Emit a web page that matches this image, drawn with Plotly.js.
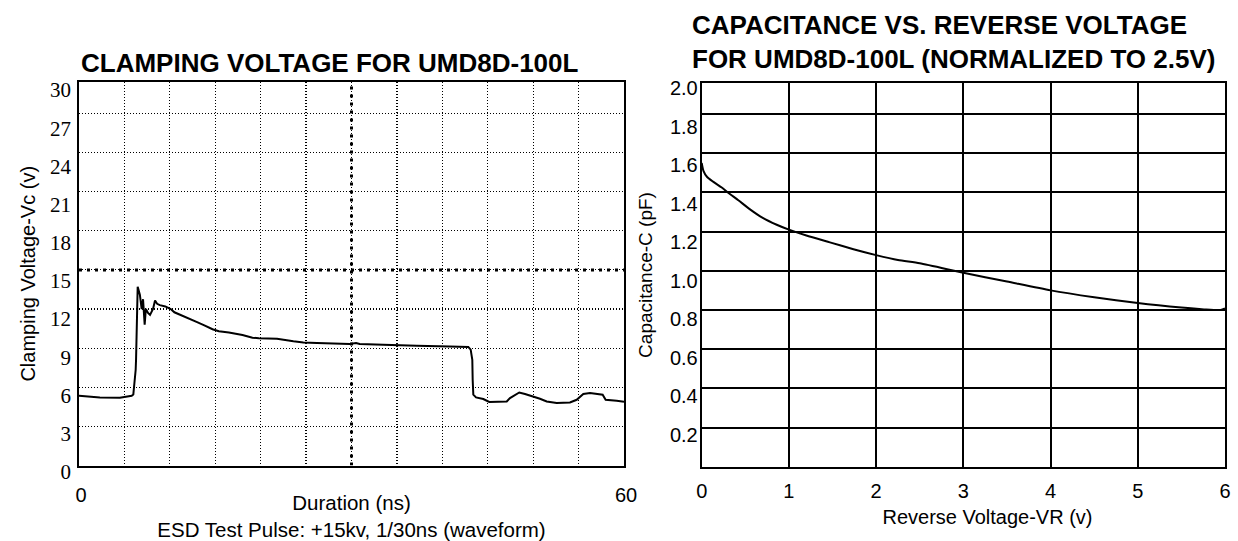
<!DOCTYPE html>
<html>
<head>
<meta charset="utf-8">
<script src="https://cdn.plot.ly/plotly-3.0.1.min.js"></script>
<style>
html,body{margin:0;padding:0;background:#fff;}
#chart{width:1238px;height:541px;}
</style>
</head>
<body>
<div id="chart"></div>
<script>
// ---------- Left chart: clamping voltage waveform ----------
const durationNs = [0, 2.3, 4.5, 5.8, 5.98, 6.09, 6.17, 6.24, 6.28, 6.31, 6.35, 6.38, 6.46,
  6.7, 6.9, 7.05, 7.23, 7.36, 7.6, 7.82, 8.15, 8.37, 8.6, 8.9, 9.5, 10.1, 10.5, 11.0, 12.1,
  13.0, 13.8, 14.7, 15.4, 16.5, 18.0, 19.1, 19.8, 21.8, 23.6, 24.7, 26.2, 28.0, 29.8, 30.5,
  30.9, 33.5, 35.3, 37.2, 40.8, 42.86, 43.12, 43.3, 43.34, 43.41, 43.71, 44.51, 45.17, 47.09,
  47.45, 48.47, 49.1, 50.01, 50.75, 51.49, 52.59, 54.05, 54.79, 55.52, 56.26, 57.65, 57.98,
  59.2, 60];
const clampVoltage = [5.35, 5.22, 5.2, 5.35, 5.45, 6.06, 6.83, 7.34, 8.11, 9.39, 11.43, 12.72, 13.7,
  13.1, 12.0, 12.75, 10.8, 12.0, 11.7, 11.55, 12.0, 12.65, 12.4, 12.3, 12.2, 12.0, 11.75, 11.6, 11.3,
  11.0, 10.75, 10.45, 10.3, 10.2, 10.0, 9.8, 9.75, 9.72, 9.52, 9.44, 9.39, 9.34, 9.32, 9.4,
  9.32, 9.26, 9.21, 9.19, 9.13, 9.09, 8.88, 8.11, 6.58, 5.43, 5.22, 5.1, 4.87, 4.91,
  5.17, 5.6, 5.48, 5.3, 5.12, 4.91, 4.79, 4.84, 5.04, 5.48, 5.56, 5.43, 5.04,
  4.97, 4.89];
const clampTickVals = [0, 3, 6, 9, 12, 15, 18, 21, 24, 27, 30];
const durationTickVals = [0, 60];
const durationTickText = ['0', '60'];
const durationGridStep = 5;
const clampGridStep = 3;
const thresholdVoltage = 15;   // heavy dotted horizontal reference
const markerTimeNs = 30;       // heavy dotted vertical reference

// ---------- Right chart: capacitance vs reverse voltage ----------
const reverseVoltage = [0, 0.02, 0.06, 0.13, 0.23, 0.3, 0.42, 0.55, 0.7, 0.86, 1.0, 1.2, 1.47, 1.74,
  2.0, 2.25, 2.5, 3.0, 3.5, 4.0, 4.5, 5.0, 5.5, 5.76, 5.95, 6.0];
const capacitance = [1.55, 1.51, 1.48, 1.455, 1.425, 1.40, 1.36, 1.315, 1.27, 1.235, 1.21, 1.18, 1.145, 1.11,
  1.08, 1.055, 1.038, 0.99, 0.945, 0.90, 0.865, 0.835, 0.812, 0.803, 0.80, 0.808];
const capTickVals = [0.2, 0.4, 0.6, 0.8, 1.0, 1.2, 1.4, 1.6, 1.8, 2.0];
const vrTickVals = [0, 1, 2, 3, 4, 5, 6];
const capGridStep = 0.2;

// ---------- layout helpers (pixel -> paper) ----------
const W = 1238, H = 541;
const fx = px => px / W;
const fy = py => 1 - py / H;
const SANS = 'Liberation Sans, Arial, Helvetica, sans-serif';
const SERIF = 'Liberation Serif, Times New Roman, serif';

const leftXRange = [0, 60];
const leftYRange = [0, 29.41];
const rightXRange = [0, 6];
const rightYRange = [0, 1.957];

const heavyDots = {color: '#000', width: 3, dash: '3px,5px'};

const traces = [
  { x: leftXRange, y: [thresholdVoltage, thresholdVoltage], xaxis: 'x', yaxis: 'y',
    mode: 'lines', line: heavyDots, hoverinfo: 'skip', showlegend: false },
  { x: [markerTimeNs, markerTimeNs], y: leftYRange, xaxis: 'x', yaxis: 'y',
    mode: 'lines', line: heavyDots, hoverinfo: 'skip', showlegend: false },
  { x: durationNs, y: clampVoltage, xaxis: 'x', yaxis: 'y', mode: 'lines',
    line: {color: '#000', width: 2}, name: 'Clamping voltage', showlegend: false },
  { x: reverseVoltage, y: capacitance, xaxis: 'x2', yaxis: 'y2', mode: 'lines',
    line: {color: '#000', width: 2, shape: 'spline', smoothing: 0.6}, name: 'Capacitance', showlegend: false },
  // label-only axes
  { x: [], y: [], xaxis: 'x3', yaxis: 'y3', mode: 'lines', hoverinfo: 'skip', showlegend: false },
  { x: [], y: [], xaxis: 'x4', yaxis: 'y4', mode: 'lines', hoverinfo: 'skip', showlegend: false }
];

const frame = {showline: true, mirror: true, linecolor: '#000', zeroline: false, ticks: ''};

const layout = {
  width: W, height: H,
  margin: {l: 0, r: 0, t: 0, b: 0, pad: 0},
  paper_bgcolor: '#fff', plot_bgcolor: 'rgba(0,0,0,0)',
  showlegend: false,
  font: {family: SANS, color: '#000'},
  title: {
    text: '<b>CLAMPING VOLTAGE FOR UMD8D-100L</b>',
    font: {family: SANS, size: 26, color: '#000'},
    xref: 'container', yref: 'container',
    x: fx(81), xanchor: 'left', y: fy(62.5), yanchor: 'middle'
  },
  annotations: [
    { text: '<b>CAPACITANCE VS. REVERSE VOLTAGE<br>FOR UMD8D-100L (NORMALIZED TO 2.5V)</b>',
      xref: 'paper', yref: 'paper', x: fx(690), y: fy(42), xanchor: 'left', yanchor: 'middle',
      align: 'left', showarrow: false, font: {family: SANS, size: 26, color: '#000'} }
  ],
  xaxis: Object.assign({}, frame, {
    domain: [fx(79), fx(624)], range: leftXRange, anchor: 'y', linewidth: 2,
    tickmode: 'array', tickvals: durationTickVals, ticktext: durationTickText,
    showgrid: false, ticklabelstandoff: 10, ticklabelshift: 2,
    tickfont: {family: SANS, size: 20, color: '#000'},
    minor: {tick0: 0, dtick: durationGridStep, showgrid: true, gridcolor: '#000', gridwidth: 1.2, griddash: '1px,2px', ticks: ''},
    title: {text: 'Duration (ns)<br>ESD Test Pulse: +15kv, 1/30ns (waveform)', font: {family: SANS, size: 20.5, color: '#000'}, standoff: 0}
  }),
  yaxis: Object.assign({}, frame, {
    domain: [fy(465.5), fy(82)], range: leftYRange, anchor: 'x', linewidth: 2,
    tick0: 0, dtick: clampGridStep, showticklabels: false,
    showgrid: true, gridcolor: '#000', gridwidth: 1.2, griddash: '1px,2px',
    title: {text: 'Clamping Voltage-Vc (v)', font: {family: SANS, size: 20, color: '#000'}, standoff: 36}
  }),
  xaxis3: {domain: [fx(79), fx(624)], anchor: 'y3', visible: false, range: [0, 1]},
  yaxis3: {
    domain: [fy(471.7), fy(90)], range: [0, 30], anchor: 'free', position: fx(79),
    tickmode: 'array', tickvals: clampTickVals, showgrid: false, showline: false, zeroline: false, ticks: '',
    ticklabelstandoff: 8,
    tickfont: {family: SERIF, size: 21, color: '#000'}
  },
  xaxis2: Object.assign({}, frame, {
    domain: [fx(701.7), fx(1225)], range: rightXRange, anchor: 'y2', linewidth: 2,
    tickmode: 'array', tickvals: vrTickVals,
    showgrid: true, gridcolor: '#000', gridwidth: 2, ticklabelstandoff: 5,
    tickfont: {family: SANS, size: 20, color: '#000'}
  }),
  yaxis2: Object.assign({}, frame, {
    domain: [fy(466.7), fy(83.3)], range: rightYRange, anchor: 'x2', linewidth: 2,
    tick0: 0, dtick: capGridStep, showticklabels: false,
    showgrid: true, gridcolor: '#000', gridwidth: 2,
    title: {text: 'Capacitance-C (pF)', font: {family: SANS, size: 19, color: '#000'}, standoff: 42}
  }),
  xaxis4: {
    domain: [fx(750), fx(1225)], range: [0, 1], anchor: 'y4',
    showgrid: false, showline: false, zeroline: false, showticklabels: false, ticks: '',
    title: {text: 'Reverse Voltage-VR (v)', font: {family: SANS, size: 20, color: '#000'}, standoff: 36}
  },
  yaxis4: {
    domain: [fy(473.6), fy(88)], range: [0, 2], anchor: 'free', position: fx(701.7),
    tickmode: 'array', tickvals: capTickVals, tickformat: '.1f',
    showgrid: false, showline: false, zeroline: false, ticks: '', ticklabelstandoff: 4,
    tickfont: {family: SANS, size: 20, color: '#000'}
  }
};

Plotly.newPlot('chart', traces, layout, {staticPlot: true, displayModeBar: false});
</script>
</body>
</html>
